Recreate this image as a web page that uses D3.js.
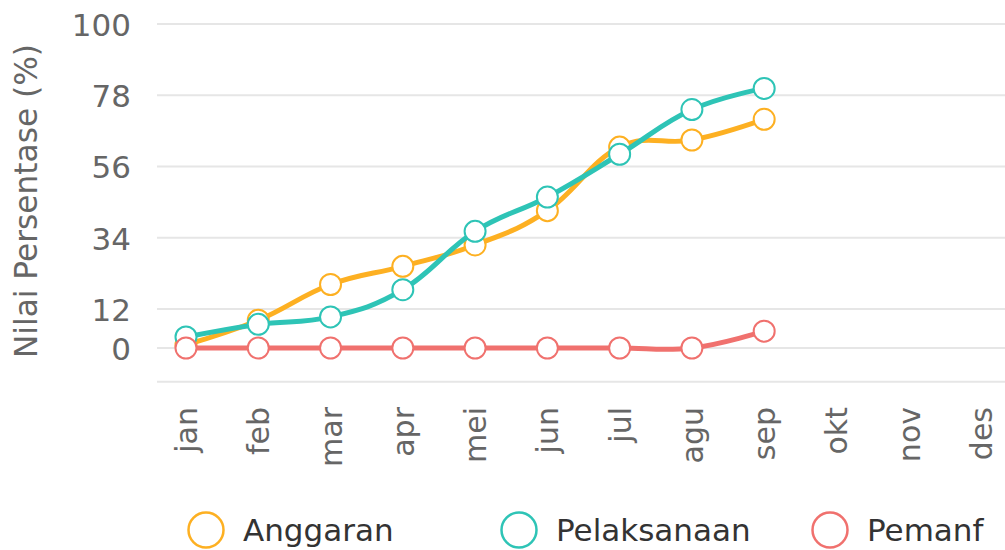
<!DOCTYPE html>
<html><head><meta charset="utf-8">
<script src="https://cdn.jsdelivr.net/npm/d3@7"></script>
<style>body{margin:0;background:#fff;}svg{display:block;font-family:"DejaVu Sans",sans-serif;}</style>
</head><body><svg id="c" width="1005" height="550"></svg>
<script>
const months = ["jan","feb","mar","apr","mei","jun","jul","agu","sep","okt","nov","des"];
const yTicks = [0, 12, 34, 56, 78, 100];
const anggaran = [1, 8.6, 19.6, 25.2, 31.8, 42.4, 62, 64.2, 70.6];
const pelaksanaan = [3.4, 7.3, 9.6, 18, 36, 46.6, 59.8, 73.6, 80.1];
const pemanf = [0, 0, 0, 0, 0, 0, 0, 0, 5.2];
const seriesNames = ["Anggaran", "Pelaksanaan", "Pemanf"];
const seriesColors = ["#FDB022", "#2EC4B6", "#F0716E"];
const seriesData = [anggaran, pelaksanaan, pemanf];

const svg = d3.select("#c");
const x = d3.scalePoint().domain(months).range([186, 981]);
const y = d3.scaleLinear().domain([-10.4, 100]).range([381.7, 24]);

// gridlines
svg.append("g").selectAll("line").data(yTicks.concat([-10.4])).join("line")
  .attr("x1", 157).attr("x2", 1005)
  .attr("y1", d => y(d)).attr("y2", d => y(d))
  .attr("stroke", "#e6e6e6").attr("stroke-width", 2);

// y axis
const yAxis = svg.append("g").attr("transform", "translate(131,0)")
  .call(d3.axisLeft(y).tickValues(yTicks).tickSize(0).tickPadding(0));
yAxis.select(".domain").remove();
yAxis.selectAll("text").attr("font-size", 31).attr("fill", "#666").attr("font-family", "DejaVu Sans").attr("dy", "0.36em");

svg.append("text").attr("transform", "translate(37,201) rotate(-90)")
  .attr("text-anchor", "middle").attr("font-size", 32).attr("fill", "#666")
  .attr("textLength", 314).attr("lengthAdjust", "spacingAndGlyphs")
  .text("Nilai Persentase (%)");

// x axis
const xAxis = svg.append("g").attr("transform", "translate(0,407)")
  .call(d3.axisBottom(x).tickSize(0).tickPadding(0));
xAxis.select(".domain").remove();
xAxis.selectAll(".tick text").attr("font-size", 30).attr("fill", "#666").attr("font-family", "DejaVu Sans")
  .attr("text-anchor", "end").attr("dy", "0.35em").attr("x", 0).attr("y", 0)
  .attr("transform", "rotate(-90)");

// series
const line = d3.line().x((d, i) => x(months[i])).y(d => y(d)).curve(d3.curveCardinal.tension(-0.2));
seriesData.forEach((data, si) => {
  const g = svg.append("g");
  g.append("path").attr("d", line(data)).attr("fill", "none")
    .attr("stroke", seriesColors[si]).attr("stroke-width", 5).attr("stroke-linejoin", "round");
  g.selectAll("circle").data(data).join("circle")
    .attr("cx", (d, i) => x(months[i])).attr("cy", d => y(d)).attr("r", 10.5)
    .attr("fill", "#fff").attr("stroke", seriesColors[si]).attr("stroke-width", 2);
});

// legend
const legendX = [206, 519, 830];
const lg = svg.append("g").selectAll("g").data(seriesNames).join("g")
  .attr("transform", (d, i) => `translate(${legendX[i]},530)`);
lg.append("circle").attr("r", 17.5).attr("fill", "#fff")
  .attr("stroke", (d, i) => seriesColors[i]).attr("stroke-width", 2.5);
lg.append("text").attr("x", 37).attr("dy", "0.36em").attr("font-size", 31)
  .attr("fill", "#333").text(d => d);
</script></body></html>
